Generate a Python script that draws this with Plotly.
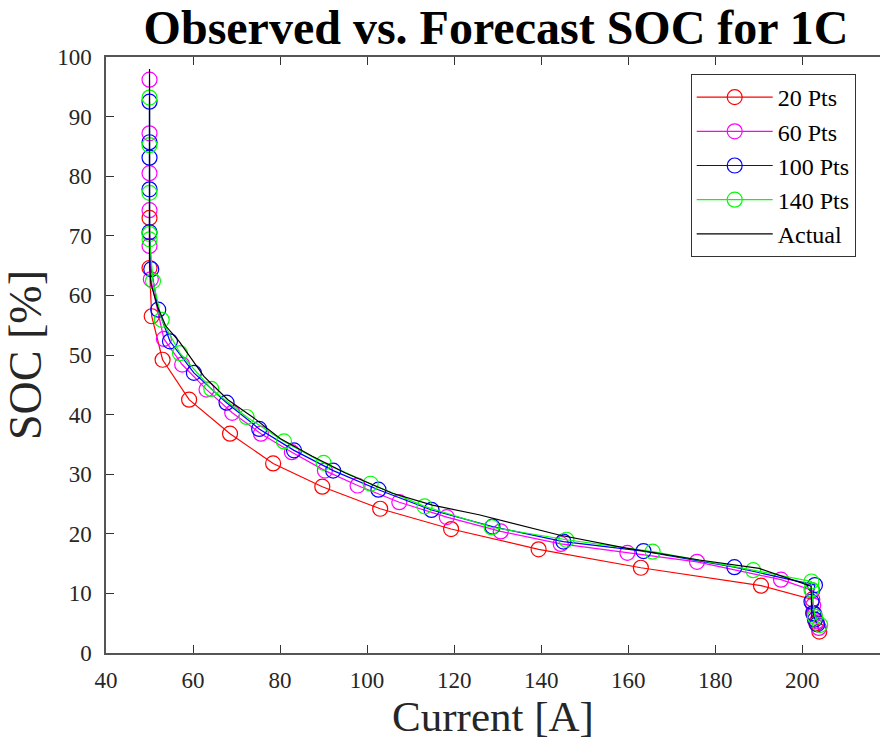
import plotly.graph_objects as go

# ---- data ----
red_x = [50.0, 50.0, 50.5, 53.0, 59.1, 68.5, 78.4, 89.7, 103.0, 119.3, 139.4, 162.9, 190.5, 202.3, 202.6, 203.2, 203.9]
red_y = [73.0, 64.6, 56.5, 49.2, 42.5, 36.8, 31.8, 27.9, 24.2, 20.8, 17.4, 14.3, 11.3, 9.0, 6.5, 5.0, 3.6]

mag_x = [50.0, 50.0, 50.0, 50.0, 50.0, 50.3, 53.3, 57.5, 63.1, 69.0, 75.6, 82.7, 90.3, 97.8, 107.4, 118.3,
         130.7, 144.5, 159.8, 175.8, 195.1, 202.3, 202.5, 202.8, 203.3, 203.8]
mag_y = [96.2, 87.2, 80.5, 74.3, 68.3, 62.7, 52.7, 48.4, 44.2, 40.3, 36.8, 33.7, 30.6, 28.1, 25.3, 22.8,
         20.4, 18.3, 16.8, 15.3, 12.3, 10.5, 8.0, 6.5, 5.3, 4.2]

blue_x = [50.0, 50.0, 50.0, 50.0, 50.0, 50.4, 52.0, 54.7, 60.2, 67.7, 75.2, 83.2, 92.2, 102.6, 114.8,
          128.8, 145.1, 163.5, 184.4, 202.9, 202.1, 202.5, 202.9, 203.4]
blue_y = [92.5, 85.7, 83.1, 77.8, 70.6, 64.4, 57.6, 52.3, 47.0, 42.0, 37.6, 34.0, 30.6, 27.4, 24.0,
          21.2, 18.7, 17.1, 14.4, 11.4, 8.6, 6.7, 5.6, 4.8]

green_x = [50.0, 50.0, 50.0, 50.0, 50.0, 50.8, 52.8, 57.0, 64.2, 72.3, 80.9, 90.0, 100.8, 113.2,
           128.6, 145.8, 165.6, 188.7, 202.1, 202.1, 202.9, 204.1]
green_y = [93.2, 85.2, 77.2, 70.3, 69.4, 62.4, 55.9, 50.3, 44.3, 39.6, 35.5, 31.9, 28.4, 24.6,
           21.1, 19.0, 17.0, 13.9, 12.0, 10.6, 6.1, 4.7]

act_x = [50.0, 50.0, 50.3, 51.8, 53.7, 56.8, 62.5, 68.0, 74.4, 80.0, 87.4, 95.0, 105.8, 115.0,
         125.7, 135.0, 144.1, 159.5, 176.3, 190.1, 202.0, 202.2]
act_y = [98.0, 65.5, 62.0, 58.2, 54.9, 52.3, 46.4, 42.5, 39.2, 36.0, 33.0, 30.2, 26.8, 24.8,
         23.2, 21.5, 19.8, 17.6, 15.6, 14.2, 11.2, 5.8]

series = [
    ("20 Pts", red_x, red_y, "#ff0000"),
    ("60 Pts", mag_x, mag_y, "#ff00ff"),
    ("100 Pts", blue_x, blue_y, "#0000ff"),
    ("140 Pts", green_x, green_y, "#00ff00"),
]

x_ticks = [40, 60, 80, 100, 120, 140, 160, 180, 200]
y_ticks = [0, 10, 20, 30, 40, 50, 60, 70, 80, 90, 100]

SERIF = "Liberation Serif, Times New Roman, serif"

fig = go.Figure()
for name, xs, ys, col in series:
    fig.add_trace(go.Scatter(
        x=xs, y=ys, name=name, mode="lines+markers",
        line=dict(color=col, width=1.2),
        marker=dict(symbol="circle-open", size=15, color=col, line=dict(width=1.2, color=col)),
    ))
fig.add_trace(go.Scatter(
    x=act_x, y=act_y, name="Actual", mode="lines",
    line=dict(color="#000000", width=1.2),
))

W, H = 880, 742
left, top, bottom = 106, 57, 89
px_per_unit = 4.352
xmax = 40 + (W - left) / px_per_unit

fig.update_layout(
    width=W, height=H,
    margin=dict(l=left, r=0, t=top, b=bottom),
    paper_bgcolor="white", plot_bgcolor="white",
    font=dict(family=SERIF, color="#262626"),
    title=dict(text="<b>Observed vs. Forecast SOC for 1C</b>",
               font=dict(family=SERIF, size=48, color="#000000"),
               x=496 / W, xanchor="center", xref="container",
               y=1 - 27 / H, yanchor="middle", yref="container"),
    showlegend=True,
    legend=dict(x=(690.7 - left) / (W - left), y=(652.7 - 74) / (652.7 - 57),
                xanchor="left", yanchor="top",
                bgcolor="white", bordercolor="#333333", borderwidth=1,
                font=dict(family=SERIF, size=24, color="#000000"),
                tracegroupgap=0, itemwidth=76),
)
fig.update_xaxes(
    range=[40, xmax], tickvals=x_ticks, ticktext=[str(v) for v in x_ticks],
    showgrid=False, zeroline=False,
    showline=True, linecolor="#555555", linewidth=1.5, mirror="ticks",
    ticks="inside", ticklen=8, tickwidth=1, tickcolor="#333333",
    tickfont=dict(family=SERIF, size=23, color="#262626"),
    ticklabelstandoff=6,
    title=dict(text="Current [A]", font=dict(family=SERIF, size=43, color="#262626"), standoff=6),
)
fig.update_yaxes(
    range=[0, 100], tickvals=y_ticks, ticktext=[str(v) for v in y_ticks],
    showgrid=False, zeroline=False,
    showline=True, linecolor="#555555", linewidth=1.5, mirror=False,
    ticks="inside", ticklen=8, tickwidth=1, tickcolor="#333333",
    tickfont=dict(family=SERIF, size=23, color="#262626"),
    ticklabelstandoff=8,
    title=dict(text="SOC [%]", font=dict(family=SERIF, size=46, color="#262626"), standoff=4),
)

fig.write_html("out.html")
